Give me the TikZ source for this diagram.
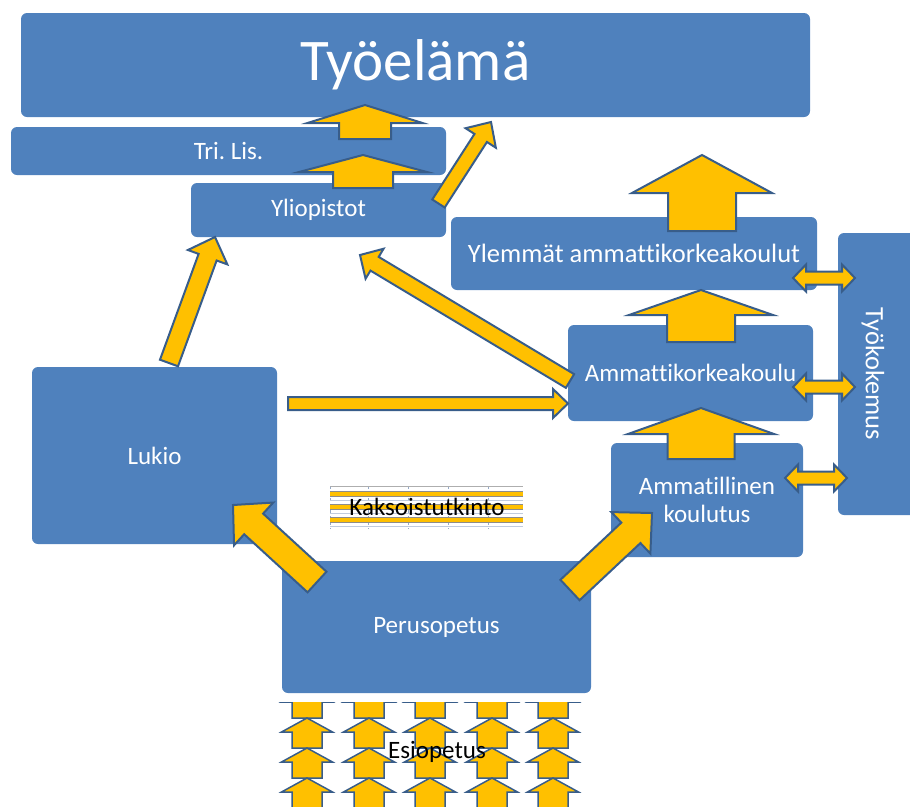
\documentclass[tikz,border=0pt]{standalone}
\usepackage{fontspec}
\setmainfont{Carlito}[Ligatures=NoCommon]
\usetikzlibrary{calc}
\definecolor{boxblue}{HTML}{4F81BD}
\definecolor{arrowline}{HTML}{385D8A}
\definecolor{gold}{HTML}{FFC000}
\definecolor{stripeline}{HTML}{8C8C8C}
\definecolor{gridblue}{HTML}{95A9C7}
\frenchspacing
\tikzset{
  box/.style={fill=boxblue, draw=none, rounded corners=6pt, inner sep=0pt},
  lbl/.style={text=white, font=\fontsize{25}{28}\selectfont, align=center, inner sep=0pt},
  dark/.style={text=black, font=\fontsize{25}{28}\selectfont, inner sep=0pt},
  barr/.style={fill=gold, draw=arrowline, line width=2pt, line join=miter},
  sarr/.style={fill=gold, draw=arrowline, line width=1.5pt, line join=miter},
}
% block arrow: tail, tip, half shaft, half head, head length, style
\newcommand\blockarrow[6]{%
  \coordinate (hb) at ($(#2)!#5!(#1)$);
  \draw[#6] ($(#1)!#3!90:(#2)$) -- ($(hb)!#3!90:(#2)$) -- ($(hb)!#4!90:(#2)$) -- (#2)
    -- ($(hb)!#4!-90:(#2)$) -- ($(hb)!#3!-90:(#2)$) -- ($(#1)!#3!-90:(#2)$) -- cycle;
}
% double arrow: end A, end B, half shaft, half head, head length
\newcommand\dblarrow[5]{%
  \coordinate (ha) at ($(#1)!#5!(#2)$);
  \coordinate (hbb) at ($(#2)!#5!(#1)$);
  \draw[barr] (#1) -- ($(ha)!#4!90:(#2)$) -- ($(ha)!#3!90:(#2)$) -- ($(hbb)!#3!-90:(#1)$)
    -- ($(hbb)!#4!-90:(#1)$) -- (#2) -- ($(hbb)!#4!90:(#1)$) -- ($(hbb)!#3!90:(#1)$)
    -- ($(ha)!#3!-90:(#2)$) -- ($(ha)!#4!-90:(#2)$) -- cycle;
}
\begin{document}
\begin{tikzpicture}[x=1pt,y=-1pt]
\useasboundingbox (0,0) rectangle (910,806);
\clip (0,0) rectangle (910,806);

% ---------- boxes ----------
\node[box, lbl, font=\fontsize{59}{62}\selectfont, minimum width=789pt, minimum height=104pt] (tyo) at (415.5,65) {Työelämä};
\node[box, lbl, minimum width=435pt, minimum height=48pt] (tri) at (228.5,151) {Tri. Lis.};
\node[box, lbl, minimum width=255pt, minimum height=54pt] (yli) at (318.5,210) {Yliopistot};
\node[box, lbl, font=\fontsize{26.5}{30}\selectfont, minimum width=366pt, minimum height=73pt] (ylem) at (634,253.5) {Ylemmät ammattikorkeakoulut};
\node[box, lbl, minimum width=245pt, minimum height=96pt] (amk) at (690.5,373) {Ammattikorkeakoulu};
\node[box, lbl, minimum width=192pt, minimum height=114pt] (amm) at (707,500) {Ammatillinen\\koulutus};
\node[box, minimum width=80pt, minimum height=282pt] (tk) at (878,374) {};
\node[lbl, font=\fontsize{26.5}{30}\selectfont, rotate=-90] (tkl) at (873,374) {Työkokemus};
\node[box, lbl, minimum width=245pt, minimum height=177pt] (luk) at (154.5,455.5) {Lukio};
\node[box, lbl, minimum width=309pt, minimum height=132pt] (per) at (436.5,627) {Perusopetus};

% ---------- Kaksoistutkinto ----------
\foreach \x in {330,368,408,448,488}
  \draw[gridblue, dashed, line width=0.6pt] (\x,486) -- (\x,529);
\draw[gridblue!60, line width=0.5pt] (330,500) -- (523,500);
\draw[gridblue!60, line width=0.5pt] (330,513) -- (523,513);
\draw[gridblue!60, line width=0.5pt] (330,526) -- (523,526);
\draw[stripeline!70, line width=0.6pt] (330,486) -- (523,486);
\foreach \y in {491.5,504,517} {
  \fill[gold] (330,\y) rectangle (523,\y+5);
  \draw[stripeline, line width=0.8pt] (330,\y) -- (523,\y);
  \draw[stripeline, line width=0.8pt] (330,\y+5) -- (523,\y+5);
}
\node[dark] (kaks) at (427,507) {Kaksoistutkinto};

% ---------- Esiopetus ----------
\begin{scope}
\clip (276,702) rectangle (594,806);
\foreach \r in {688,718,748,778} {
  \foreach \c in {307,369,430,492,553} {
    \coordinate (et) at (\c,\r+30);
    \coordinate (eh) at (\c,\r);
    \blockarrow{et}{eh}{15pt}{25.5pt}{14pt}{sarr}
  }
}
\end{scope}
\node[dark] (esi) at (437,752) {Esiopetus};

% ---------- arrow end points ----------
\coordinate (a1t) at (365,139);   \coordinate (a1h) at (365,105);
\coordinate (a2t) at (363,188);   \coordinate (a2h) at (363,155);
\coordinate (a3t) at (438.5,203.5); \coordinate (a3h) at (491,122);
\coordinate (a4t) at (702,231);   \coordinate (a4h) at (702,155);
\coordinate (a5t) at (701,342);   \coordinate (a5h) at (701,290);
\coordinate (a6t) at (701,459);   \coordinate (a6h) at (701,408);
\coordinate (a7t) at (169,363);   \coordinate (a7h) at (215,237);
\coordinate (a8t) at (570,381);   \coordinate (a8h) at (360,255);
\coordinate (a9t) at (288,403.5); \coordinate (a9h) at (568,403.5);
\coordinate (a10t) at (317,582);  \coordinate (a10h) at (233,505);
\coordinate (a11t) at (570,590);  \coordinate (a11h) at (652,513);

% ---------- block arrows ----------
\blockarrow{a1t}{a1h}{26pt}{57.5pt}{18pt}{barr}
\blockarrow{a2t}{a2h}{30pt}{64pt}{17pt}{barr}
\blockarrow{a3t}{a3h}{7.4pt}{18pt}{19pt}{barr}
\blockarrow{a4t}{a4h}{34pt}{70pt}{38pt}{barr}
\blockarrow{a5t}{a5h}{34pt}{72pt}{25pt}{barr}
\blockarrow{a6t}{a6h}{33.5pt}{73pt}{26pt}{barr}
\blockarrow{a7t}{a7h}{9.6pt}{21pt}{21.5pt}{barr}
\blockarrow{a8t}{a8h}{8pt}{17.5pt}{17pt}{barr}
\blockarrow{a9t}{a9h}{6.5pt}{14.5pt}{15pt}{barr}
\blockarrow{a10t}{a10h}{14pt}{29pt}{28pt}{barr}
\blockarrow{a11t}{a11h}{14pt}{28.5pt}{29pt}{barr}

% ---------- double arrows to Työkokemus ----------
\coordinate (d1a) at (793,278); \coordinate (d1b) at (855,278);
\coordinate (d2a) at (793,387); \coordinate (d2b) at (855,387);
\coordinate (d3a) at (785,478); \coordinate (d3b) at (847,478);
\dblarrow{d1a}{d1b}{6.5pt}{13.5pt}{13pt}
\dblarrow{d2a}{d2b}{6.5pt}{13.5pt}{13pt}
\dblarrow{d3a}{d3b}{6.5pt}{13.5pt}{13pt}
\end{tikzpicture}
\end{document}
